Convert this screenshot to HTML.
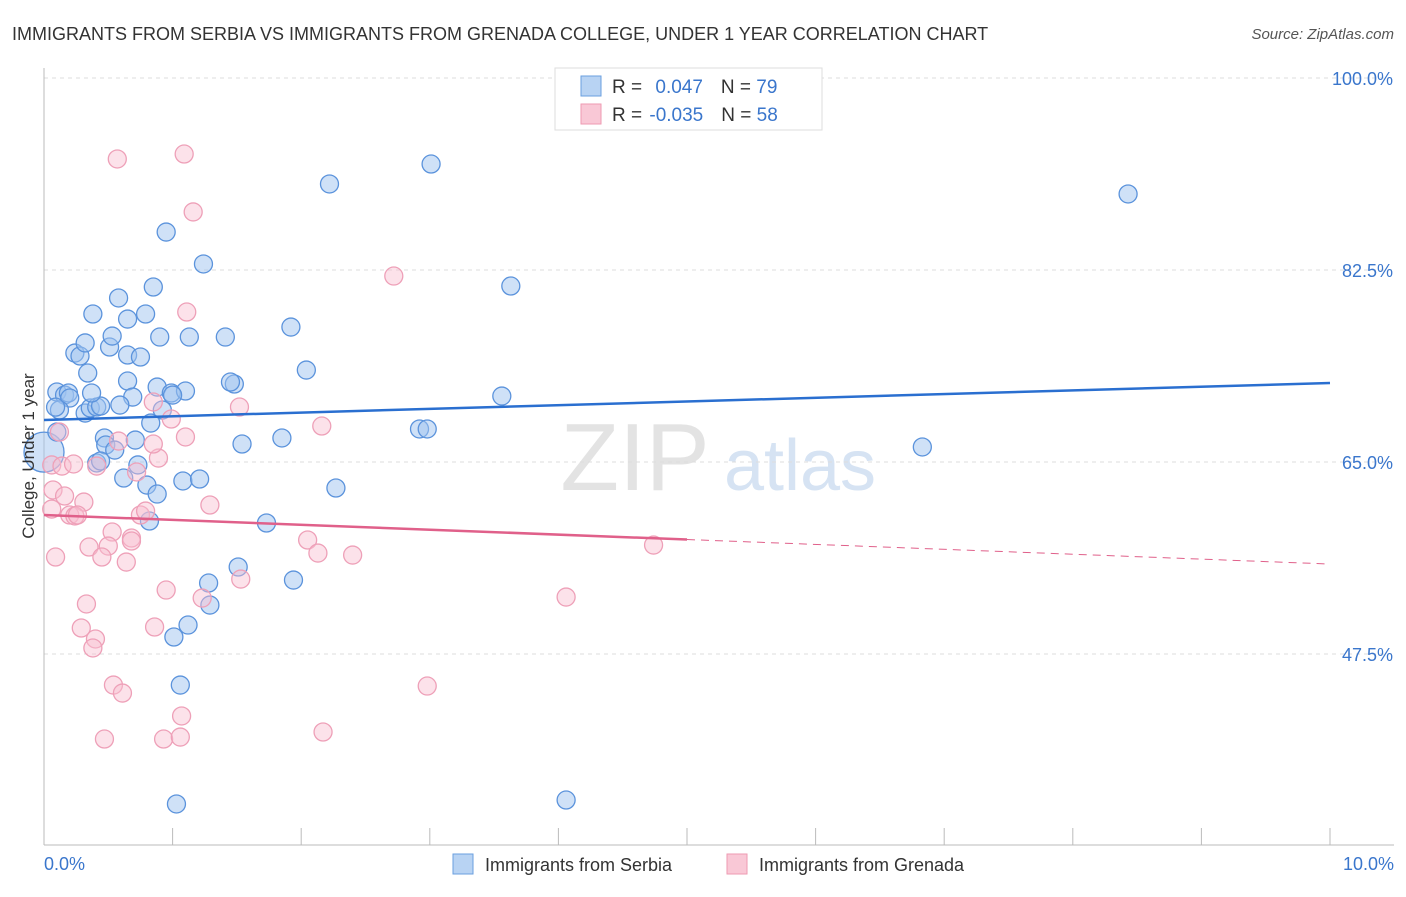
<!DOCTYPE html>
<html><head><meta charset="utf-8">
<style>
body{margin:0;background:#fff;font-family:"Liberation Sans",sans-serif;}
svg text{font-family:"Liberation Sans",sans-serif;}
</style></head>
<body>
<svg id="chart" width="1406" height="892" xmlns="http://www.w3.org/2000/svg">
<text x="12" y="40" font-size="18" fill="#333">IMMIGRANTS FROM SERBIA VS IMMIGRANTS FROM GRENADA COLLEGE, UNDER 1 YEAR CORRELATION CHART</text>
<text x="1394" y="39" font-size="15" fill="#555" text-anchor="end" font-style="italic">Source: ZipAtlas.com</text>
<g>
<text x="635" y="490" font-size="96" fill="#e3e3e3" font-family="Liberation Serif,serif" text-anchor="middle">ZIP</text>
<text x="800" y="490" font-size="72" fill="#d6e3f3" text-anchor="middle">atlas</text>
</g>
<g id="grid"></g>
<g id="axes"></g>
<g id="pts"></g>
<g id="trends"></g>
<g>
<rect x="555" y="68" width="267" height="62" fill="#fff" stroke="#ddd"/>
<rect x="581" y="76" width="20" height="20" fill="#b8d3f3" stroke="#6a9fdf"/>
<rect x="581" y="104" width="20" height="20" fill="#f9c8d6" stroke="#ee9ab2"/>
<text x="612" y="93" font-size="19" fill="#333">R = <tspan fill="#3a76cc" dx="8">0.047</tspan><tspan dx="18" fill="#333">N = </tspan><tspan fill="#3a76cc">79</tspan></text>
<text x="612" y="121" font-size="19" fill="#333">R = <tspan fill="#3a76cc" dx="2">-0.035</tspan><tspan dx="18" fill="#333">N = </tspan><tspan fill="#3a76cc">58</tspan></text>
</g>
<g>
<rect x="453" y="854" width="20" height="20" fill="#b8d3f3" stroke="#6a9fdf"/>
<text x="485" y="871" font-size="18" fill="#333">Immigrants from Serbia</text>
<rect x="727" y="854" width="20" height="20" fill="#f9c8d6" stroke="#ee9ab2"/>
<text x="759" y="871" font-size="18" fill="#333">Immigrants from Grenada</text>
</g>
<text transform="translate(34,456) rotate(-90)" font-size="17" fill="#333" text-anchor="middle">College, Under 1 year</text>
</svg>
<script>
const yTicks=[100,82.5,65,47.5];
const yTickLabels=["100.0%","82.5%","65.0%","47.5%"];
const xMin=0,xMax=10;
const serbiaX=[0,.1,.16,.19,.2,.12,.09,.1,.32,.36,.41,.44,.37,.24,.28,.32,.34,.38,.51,.53,.58,.65,.65,.75,.79,.85,.9,.95,1.24,1.13,1.41,1.48,1.92,2.04,2.22,3.01,3.63,3.56,8.43,.65,.69,.88,.92,.99,1.1,.59,.47,.48,.55,.71,.83,.41,.62,.73,.8,.88,1.08,1.21,1.54,1.85,2.27,2.92,2.98,6.83,1.73,.82,1.51,1.28,1.29,1.94,1.12,1.01,1.06,1.03,4.06,.44,1.0,1.45];
const serbiaY=[65.9,71.38,71.1,71.29,70.83,69.74,70.0,67.73,69.46,69.92,70.01,70.1,71.29,74.93,74.66,75.85,73.11,78.49,75.48,76.48,79.95,74.75,78.03,74.57,78.49,80.95,76.39,85.96,83.05,76.39,76.39,72.11,77.3,73.38,90.34,92.16,81.04,71.01,89.43,72.38,70.92,71.83,69.74,71.29,71.47,70.19,67.19,66.55,66.09,67.0,68.55,64.91,63.54,64.73,62.9,62.08,63.27,63.45,66.64,67.19,62.63,68.01,68.01,66.37,59.44,59.62,55.43,53.97,51.96,54.24,50.14,49.05,44.67,33.83,34.19,65.09,71.1,72.29];
const grenadaX=[.57,1.09,1.16,2.72,1.11,.85,.99,1.1,1.52,2.16,.12,.06,.14,.23,.41,.58,.89,.72,.07,.16,.31,.2,.24,.26,.06,.53,.75,.79,1.29,2.05,.35,.5,.45,.64,.68,.68,.09,2.13,2.4,4.74,.95,1.53,1.23,.33,.29,.4,.38,.86,4.06,.54,.61,2.98,1.07,.47,.93,1.06,2.17,.85];
const grenadaY=[92.62,93.07,87.79,81.95,78.67,70.47,68.92,67.28,70.01,68.28,67.73,64.73,64.63,64.82,64.63,66.91,65.36,64.09,62.45,61.9,61.35,60.17,60.08,60.17,60.71,58.62,60.17,60.53,61.08,57.89,57.25,57.34,56.34,55.88,58.07,57.8,56.34,56.7,56.52,57.43,53.33,54.33,52.6,52.06,49.87,48.87,48.05,49.96,52.69,44.67,43.94,44.58,41.85,39.75,39.75,39.93,40.39,66.64];
const serbiaTrend=[68.83,72.2];
const grenadaTrend=[60.17,55.7];
const grenadaSolidEnd=5.0;

const NS="http://www.w3.org/2000/svg";
const X0=44,X1=1330,Y100=78,PXPER=192/17.5;
const sx=v=>X0+(v-xMin)/(xMax-xMin)*(X1-X0);
const sy=v=>Y100+(100-v)*PXPER;
function mk(tag,attrs,parent){const e=document.createElementNS(NS,tag);for(const k in attrs)e.setAttribute(k,attrs[k]);parent.appendChild(e);return e;}
const grid=document.getElementById('grid'),axes=document.getElementById('axes'),pts=document.getElementById('pts'),tr=document.getElementById('trends');
yTicks.forEach((t,i)=>{
  const l=mk('line',{x1:X0,x2:1394,y1:sy(t),y2:sy(t),stroke:'#ddd','stroke-dasharray':'4,4'},grid);
  
  
  const tx=mk('text',{x:1393,y:sy(t)+7,'font-size':18,fill:'#3a76cc','text-anchor':'end'},axes);
  tx.textContent=yTickLabels[i];
  
  
});
const ax=mk('line',{x1:X0,x2:X0,y1:68,y2:845,stroke:'#bbb'},axes);


const bx=mk('line',{x1:X0,x2:1394,y1:845,y2:845,stroke:'#bbb'},axes);


for(let i=0;i<=10;i++){
  const t=mk('line',{x1:sx(i),x2:sx(i),y1:828,y2:845,stroke:'#bbb'},axes);
  
  
}
const xl0=mk('text',{x:44,y:870,'font-size':18,fill:'#3a76cc'},axes);xl0.textContent='0.0%';


const xl1=mk('text',{x:1394,y:870,'font-size':18,fill:'#3a76cc','text-anchor':'end'},axes);xl1.textContent='10.0%';


serbiaX.forEach((x,i)=>{
  const c=mk('circle',{cx:sx(x),cy:sy(serbiaY[i]),r:i===0?20:9,fill:'rgba(160,196,240,0.5)',stroke:'#5b93dc','stroke-width':1.3},pts);
  
  
});
grenadaX.forEach((x,i)=>{
  const c=mk('circle',{cx:sx(x),cy:sy(grenadaY[i]),r:9,fill:'rgba(248,190,208,0.45)',stroke:'#eea0b8','stroke-width':1.3},pts);
  
  
});
const bl=mk('line',{x1:sx(0),y1:sy(serbiaTrend[0]),x2:sx(10),y2:sy(serbiaTrend[1]),stroke:'#2a6fd0','stroke-width':2.5},tr);


const gm=grenadaTrend[0]+(grenadaTrend[1]-grenadaTrend[0])*grenadaSolidEnd/10;
const gl=mk('line',{x1:sx(0),y1:sy(grenadaTrend[0]),x2:sx(grenadaSolidEnd),y2:sy(gm),stroke:'#e0608a','stroke-width':2.5},tr);


const gd=mk('line',{x1:sx(grenadaSolidEnd),y1:sy(gm),x2:sx(10),y2:sy(grenadaTrend[1]),stroke:'#e0608a','stroke-width':1,'stroke-dasharray':'8,6'},tr);


</script>
</body></html>
